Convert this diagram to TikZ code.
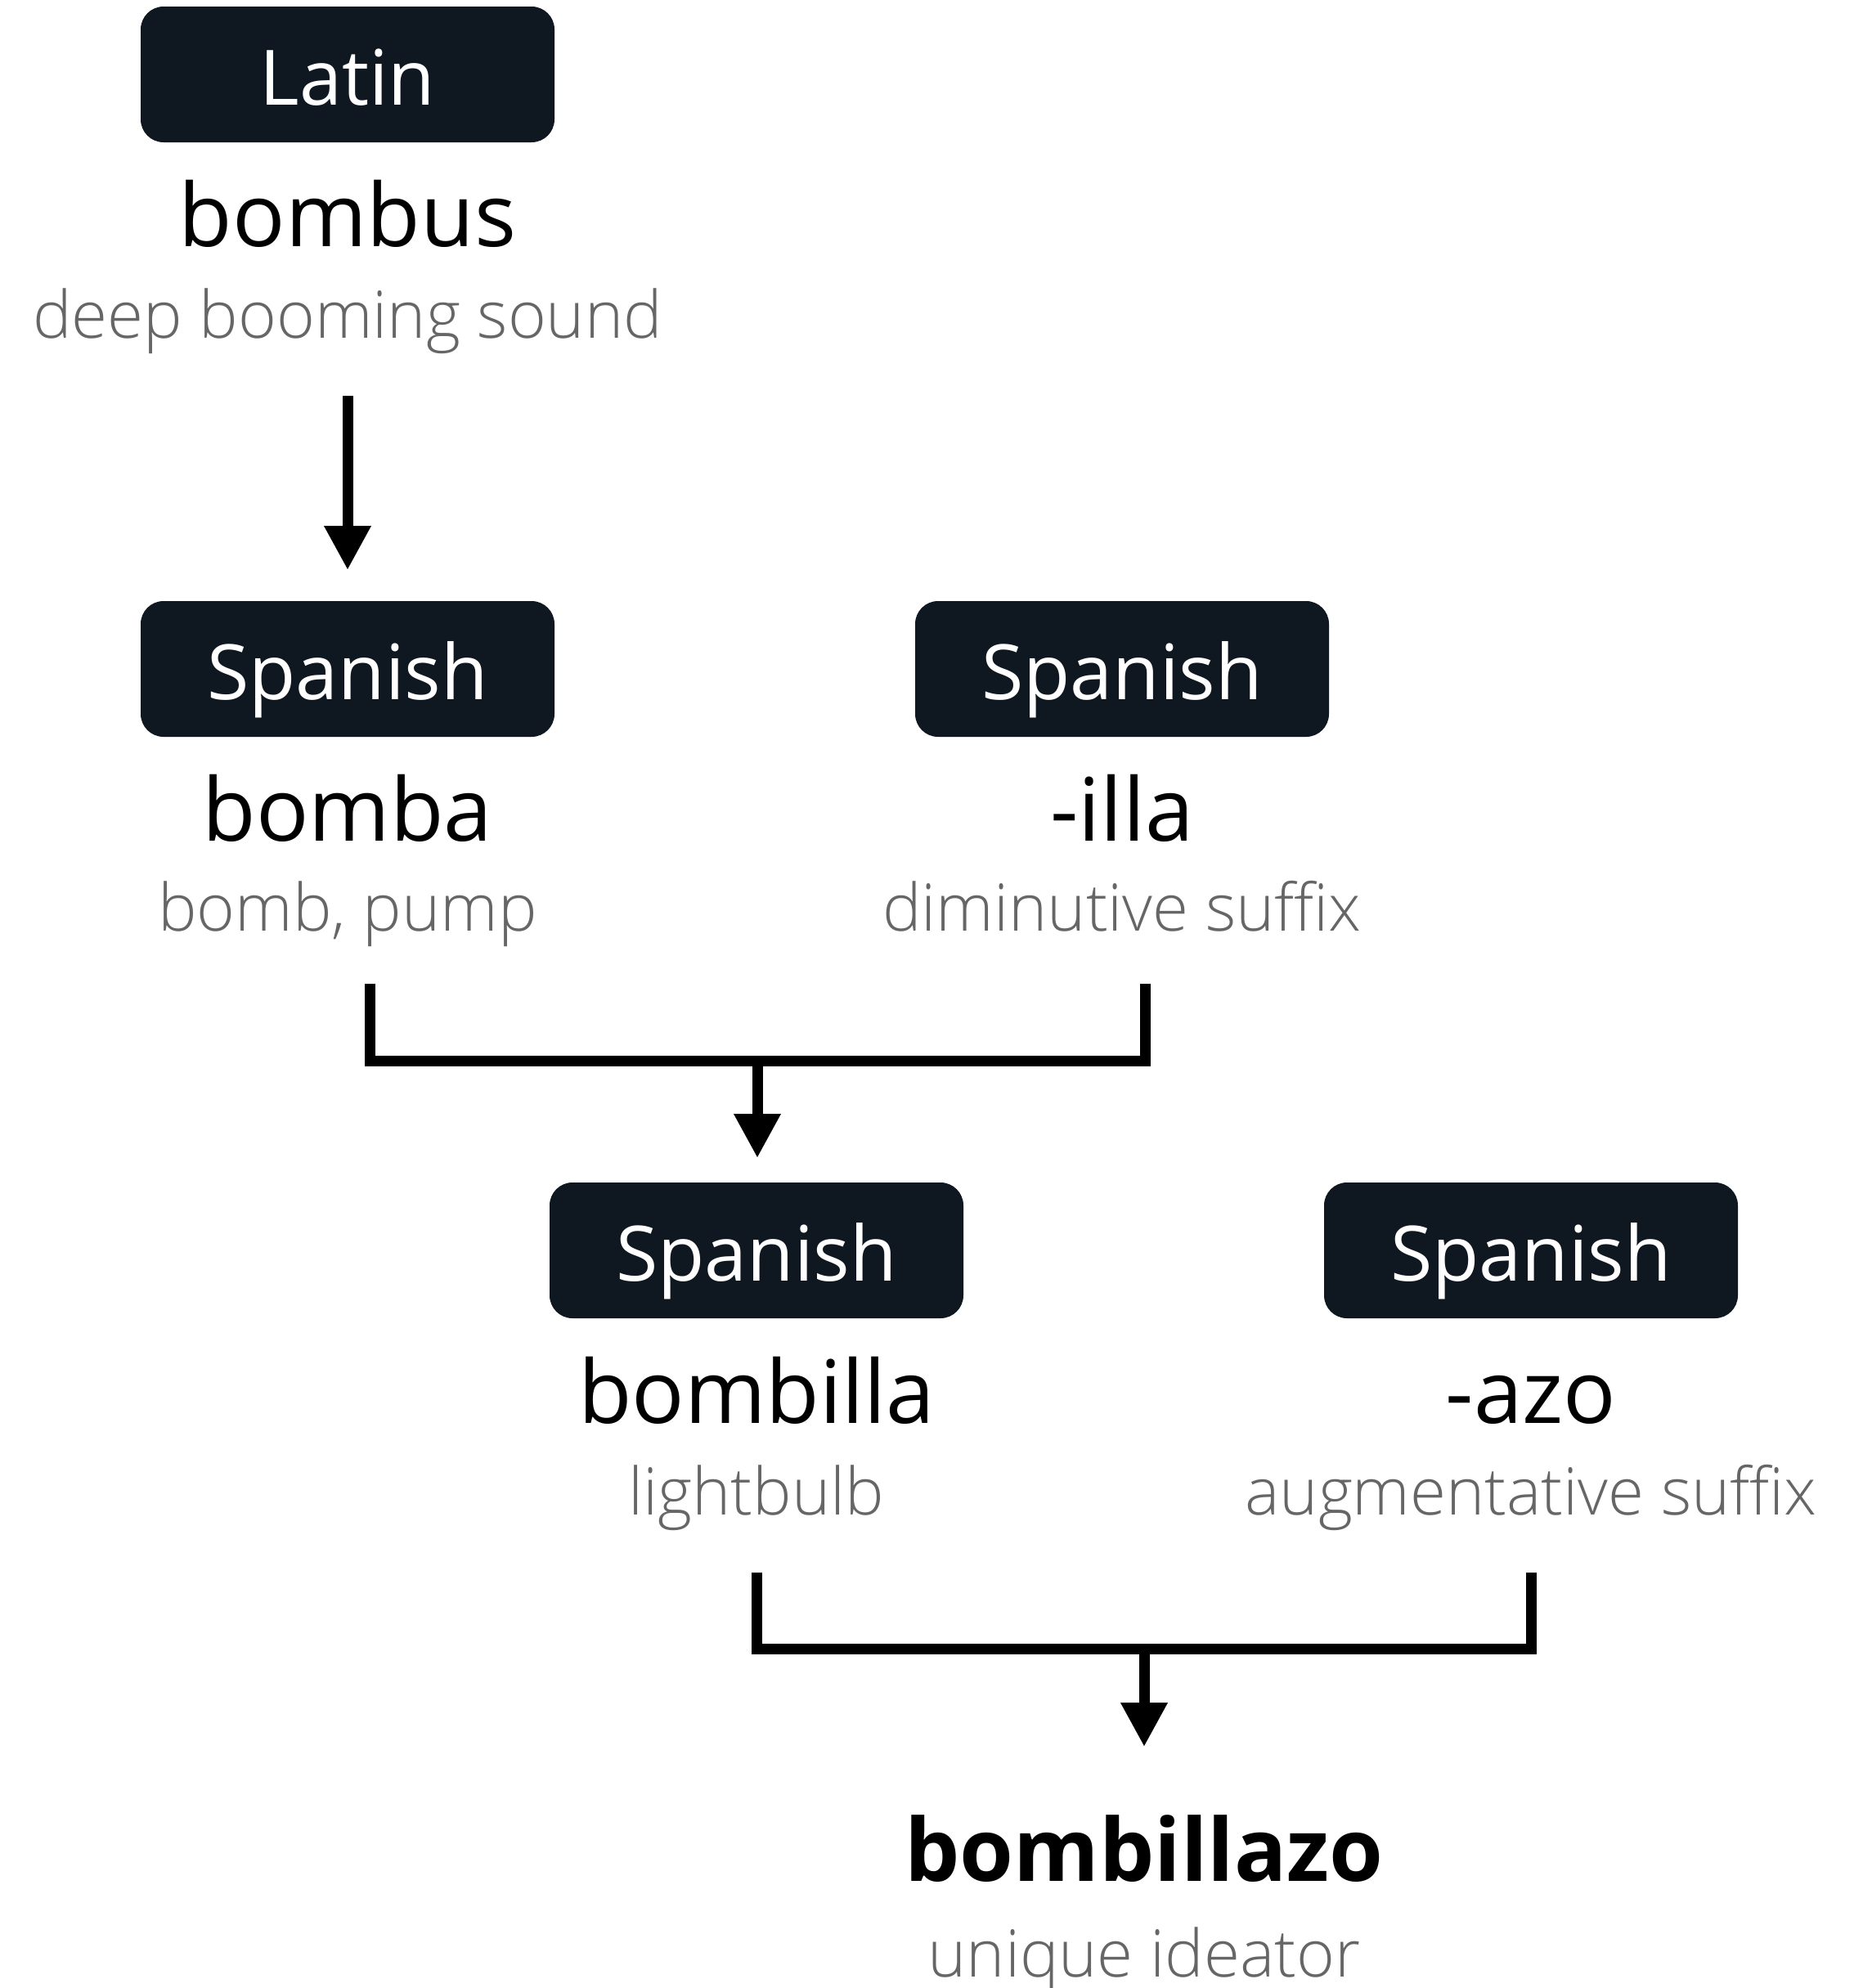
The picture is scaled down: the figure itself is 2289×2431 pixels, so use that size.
\documentclass[tikz,border=0pt]{standalone}
\usepackage{fontspec}
\setmainfont{Open Sans}
\newfontfamily\lightfont{Open Sans Light}
\usetikzlibrary{arrows.meta}
\definecolor{boxfill}{HTML}{0F1720}
\definecolor{glossgray}{HTML}{666666}
\begin{document}
\begin{tikzpicture}[x=1pt,y=-1pt,
  langbox/.style={fill=boxfill, rounded corners=28pt, minimum width=506pt, inner sep=0pt,
    text height=120pt, text depth=46pt, text=white, anchor=base,
    font=\fontsize{93.5}{110}\selectfont},
  word/.style={anchor=base, inner sep=0pt, font=\fontsize{107}{120}\selectfont},
  finalword/.style={anchor=base, inner sep=0pt, font=\bfseries\fontsize{106.5}{120}\selectfont},
  gloss/.style={anchor=base, inner sep=0pt, text=glossgray, font=\lightfont\fontsize{80}{90}\selectfont},
  conn/.style={line width=13pt},
  arr/.style={conn, -{Triangle[width=54pt,length=54pt]}}]
\useasboundingbox (0,0) rectangle (2289,2431);
\fill[white] (0,0) rectangle (2289,2431);

% Row 1
\node[langbox] (latin) at (425,128) {Latin};
\node[word] (bombus) at (425,301) {bombus};
\node[gloss] (gbombus) at (425,413) {deep booming sound};

% Row 2
\node[langbox] (sp1) at (425,855) {Spanish};
\node[word] (bomba) at (425,1028) {bomba};
\node[gloss] (gbomba) at (425,1138) {bomb, pump};
\node[langbox] (sp2) at (1372,855) {Spanish};
\node[word] (illa) at (1372,1028) {-illa};
\node[gloss] (gilla) at (1372,1138) {diminutive suffix};

% Row 3
\node[langbox] (sp3) at (925,1566) {Spanish};
\node[word] (bombilla) at (925,1740) {bombilla};
\node[gloss] (gbombilla) at (925,1852) {lightbulb};
\node[langbox] (sp4) at (1872,1566) {Spanish};
\node[word] (azo) at (1872,1740) {-azo};
\node[gloss] (gazo) at (1872,1852) {augmentative suffix};

% Final
\node[finalword] (final) at (1399,2300) {bombillazo};
\node[gloss] (gfinal) at (1399,2417) {unique ideator};

% Connector 1
\coordinate (a1s) at (425,484);
\coordinate (a1e) at (425,697);
\draw[arr] (a1s) -- (a1e);

% Bracket 1
\coordinate (b1l) at (452.5,1203);
\coordinate (b1r) at (1400,1203);
\coordinate (b1m) at (926,1297.5);
\coordinate (b1e) at (926,1416);
\draw[conn] (b1l) |- (b1m) -| (b1r);
\draw[arr] (b1m) -- (b1e);

% Bracket 2
\coordinate (b2l) at (925,1923);
\coordinate (b2r) at (1872,1923);
\coordinate (b2m) at (1399,2016.5);
\coordinate (b2e) at (1399,2136);
\draw[conn] (b2l) |- (b2m) -| (b2r);
\draw[arr] (b2m) -- (b2e);
\end{tikzpicture}
\end{document}
